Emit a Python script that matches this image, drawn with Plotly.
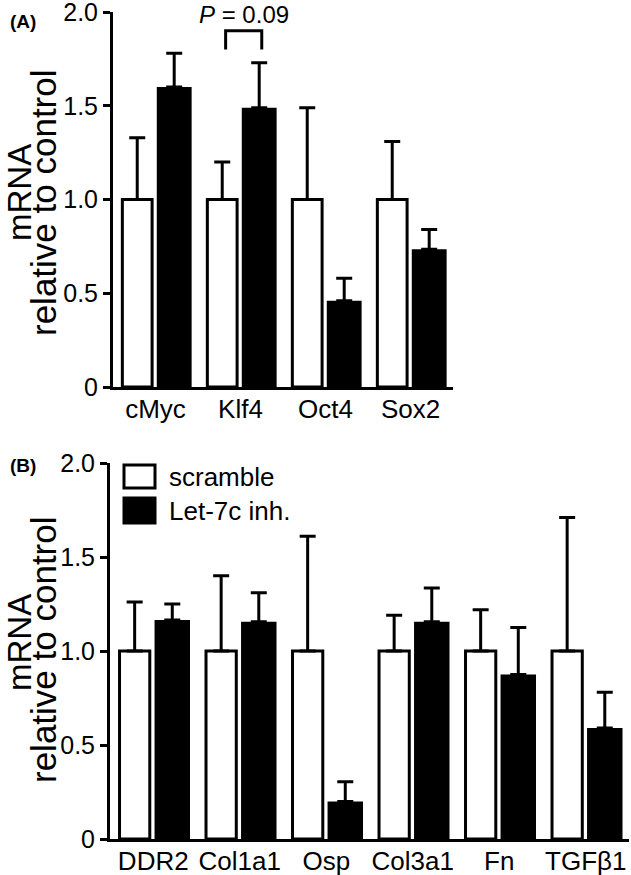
import plotly.graph_objects as go

# ---------------- data ----------------
genes_a = ["cMyc", "Klf4", "Oct4", "Sox2"]
scramble_a = [1.0, 1.0, 1.0, 1.0]
scramble_a_err = [0.33, 0.20, 0.49, 0.31]
let7_a = [1.60, 1.49, 0.46, 0.735]
let7_a_err = [0.18, 0.24, 0.12, 0.105]

genes_b = ["DDR2", "Col1a1", "Osp", "Col3a1", "Fn", "TGFβ1"]
scramble_b = [1.0, 1.0, 1.0, 1.0, 1.0, 1.0]
scramble_b_err = [0.26, 0.40, 0.61, 0.19, 0.22, 0.71]
let7_b = [1.165, 1.155, 0.20, 1.155, 0.875, 0.59]
let7_b_err = [0.085, 0.155, 0.105, 0.18, 0.25, 0.19]

series_names = ["scramble", "Let-7c inh."]
y_tickvals = [0, 0.5, 1.0, 1.5, 2.0]
y_ticktext = ["0", "0.5", "1.0", "1.5", "2.0"]
y_title = ["mRNA", "relative to control"]
panel_labels = ["(A)", "(B)"]
p_label = "<i>P</i> = 0.09"
p_gene = "Klf4"
p_bracket = [1.80, 1.90]

# ---------------- layout helpers ----------------
W, H = 631, 875
FONT = "Arial, Liberation Sans, sans-serif"


def px_x(px):
    return px / W


def px_y(py):
    return 1 - py / H


W_WHITE, OFF_WHITE = 0.35, -0.39
W_BLACK, OFF_BLACK = 0.41, 0.015


def bar_pair(cats, s_vals, s_err, l_vals, l_err, xa, ya):
    white = go.Bar(
        x=cats, y=s_vals, name=series_names[0], xaxis=xa, yaxis=ya,
        width=W_WHITE, offset=OFF_WHITE, showlegend=False,
        marker=dict(color="white", line=dict(color="black", width=3)),
        error_y=dict(type="data", symmetric=False, array=s_err,
                     arrayminus=[0] * len(s_err), color="black",
                     thickness=3, width=8),
    )
    black = go.Bar(
        x=cats, y=l_vals, name=series_names[1], xaxis=xa, yaxis=ya,
        width=W_BLACK, offset=OFF_BLACK, showlegend=False,
        marker=dict(color="black", line=dict(color="black", width=0)),
        error_y=dict(type="data", symmetric=False, array=l_err,
                     arrayminus=[0] * len(l_err), color="black",
                     thickness=3, width=8),
    )
    return [white, black]


fig = go.Figure()
for t in bar_pair(genes_a, scramble_a, scramble_a_err, let7_a, let7_a_err, "x", "y"):
    fig.add_trace(t)
for t in bar_pair(genes_b, scramble_b, scramble_b_err, let7_b, let7_b_err, "x2", "y2"):
    fig.add_trace(t)

yaxis_common = dict(
    range=[0, 2.0], tickvals=y_tickvals, ticktext=y_ticktext,
    showline=True, linewidth=3, linecolor="black",
    ticks="outside", ticklen=7, tickwidth=3, tickcolor="black",
    tickfont=dict(family=FONT, size=25, color="black"),
    ticklabeloverflow="allow",
    showgrid=False, zeroline=False, fixedrange=True, automargin=False,
)
xaxis_common = dict(
    type="category", showline=True, linewidth=3, linecolor="black",
    ticks="", showgrid=False, zeroline=False, automargin=False,
    ticklabeloverflow="allow", ticklabelstandoff=-3,
    tickfont=dict(family=FONT, size=26, color="black"),
)

fig.update_layout(
    width=W, height=H, autosize=False,
    margin=dict(l=0, r=0, t=0, b=0, pad=0),
    paper_bgcolor="white", plot_bgcolor="white",
    barmode="group",
    xaxis=dict(domain=[px_x(113), px_x(453)], anchor="y",
               range=[-0.5, len(genes_a) - 0.5], **xaxis_common),
    yaxis=dict(domain=[px_y(387), px_y(12)], anchor="x", **yaxis_common),
    xaxis2=dict(domain=[px_x(110), px_x(629)], anchor="y2",
                range=[-0.5, len(genes_b) - 0.5], **xaxis_common),
    yaxis2=dict(domain=[px_y(839), px_y(463)], anchor="x2", **yaxis_common),
)

annotations = []
# y-axis titles
for cy_m, cy_r in ((193, 203), (643, 650)):
    annotations.append(dict(text=y_title[0], x=px_x(19), y=px_y(cy_m), xref="paper", yref="paper",
                            xanchor="center", yanchor="middle", textangle=-90, showarrow=False,
                            font=dict(family=FONT, size=33, color="black")))
    annotations.append(dict(text=y_title[1], x=px_x(43), y=px_y(cy_r), xref="paper", yref="paper",
                            xanchor="center", yanchor="middle", textangle=-90, showarrow=False,
                            font=dict(family=FONT, size=35, color="black")))
# panel labels
annotations.append(dict(text="<b>" + panel_labels[0] + "</b>", x=px_x(8), y=px_y(21), xref="paper",
                        yref="paper", xanchor="left", yanchor="middle", showarrow=False,
                        font=dict(family=FONT, size=19, color="black")))
annotations.append(dict(text="<b>" + panel_labels[1] + "</b>", x=px_x(8), y=px_y(465), xref="paper",
                        yref="paper", xanchor="left", yanchor="middle", showarrow=False,
                        font=dict(family=FONT, size=19, color="black")))

# P-value bracket on Klf4
pi = genes_a.index(p_gene)
bx0 = pi + OFF_WHITE + W_WHITE / 2 + 0.04
bx1 = pi + OFF_BLACK + W_BLACK / 2 + 0.03
fig.add_shape(type="path", xref="x", yref="y",
              path=f"M {bx0},{p_bracket[0]} L {bx0},{p_bracket[1]} L {bx1},{p_bracket[1]} L {bx1},{p_bracket[0]}",
              line=dict(color="black", width=3))
annotations.append(dict(text=p_label, x=(bx0 + bx1) / 2, y=1.985, xref="x", yref="y",
                        xanchor="center", yanchor="middle", showarrow=False,
                        font=dict(family=FONT, size=24, color="black")))

# legend (panel B)
legend_fill = ["white", "black"]
legend_rows = [(465, 488), (498, 523)]
for name, fill, (y0, y1) in zip(series_names, legend_fill, legend_rows):
    fig.add_shape(type="rect", xref="paper", yref="paper",
                  x0=px_x(124), x1=px_x(155), y0=px_y(y1), y1=px_y(y0),
                  fillcolor=fill, line=dict(color="black", width=3))
    annotations.append(dict(text=name, x=px_x(167), y=px_y((y0 + y1) / 2), xref="paper", yref="paper",
                            xanchor="left", yanchor="middle", showarrow=False,
                            font=dict(family=FONT, size=26, color="black")))

fig.update_layout(annotations=annotations)
fig.write_html("out.html", config={"displayModeBar": False},
               post_script="document.body.style.margin='0';")
